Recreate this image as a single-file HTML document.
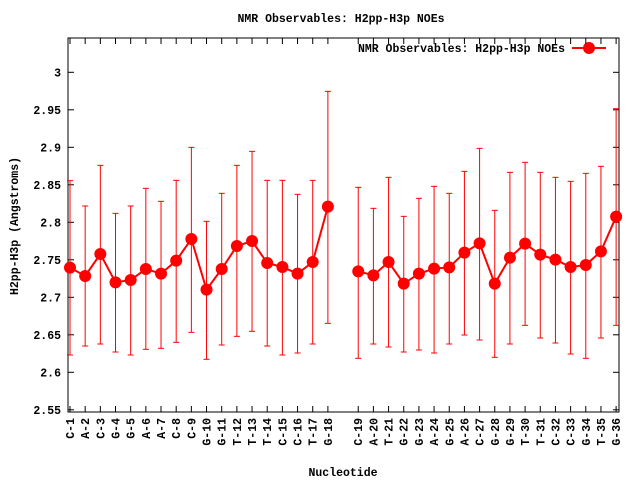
<!DOCTYPE html>
<html><head><meta charset="utf-8"><style>
html,body{margin:0;padding:0;background:#fff;}
svg{display:block;font-family:"Liberation Mono","DejaVu Sans Mono",monospace;font-weight:bold;font-size:11.5px;}
</style></head><body>
<svg id="s" width="640" height="480" xmlns="http://www.w3.org/2000/svg">
<rect width="640" height="480" fill="#fff"/>
<text x="341" y="22" text-anchor="middle">NMR Observables: H2pp-H3p NOEs</text>
<text x="343" y="476" text-anchor="middle">Nucleotide</text>
<text transform="translate(18,226) rotate(-90)" text-anchor="middle">H2pp-H3p (Angstroms)</text>
<rect x="68" y="38" width="551" height="374" fill="none" stroke="#000" stroke-width="1"/>
<text x="565" y="52" text-anchor="end">NMR Observables: H2pp-H3p NOEs</text>
<line x1="572" y1="48" x2="606" y2="48" stroke="#f00" stroke-width="2"/>
<circle cx="589" cy="48" r="6" fill="#f00"/>
<g id="g"></g>
</svg>
<script>
var names=["C-1","A-2","C-3","G-4","G-5","A-6","A-7","C-8","C-9","G-10","G-11","T-12","T-13","T-14","C-15","C-16","T-17","G-18",null,"C-19","A-20","T-21","G-22","G-23","A-24","G-25","A-26","C-27","G-28","G-29","T-30","T-31","C-32","C-33","G-34","T-35","G-36"];
var d=[[713,452,975],[738,528,948],[672,406,942],[757,550,966],[750,528,975],[717,475,958],[731,514,955],[692,451,937],[627,352,907],[779,574,988],[717,490,945],[648,406,919],[633,364,904],[699,451,948],[711,451,975],[731,493,969],[696,451,942],[530,184,880],null,
[724,472,985],[736,535,942],[696,442,951],[761,559,966],[731,505,960],[716,469,969],[712,490,942],[668,424,915],[640,355,930],[761,541,982],[683,427,942],[641,397,886],[674,427,924],[689,442,939],[711,454,972],[705,430,985],[664,409,924],[560,236,886]];
var h='';
function Y(z){return 30+z/3;}
var yl=["3","2.95","2.9","2.85","2.8","2.75","2.7","2.65","2.6","2.55"];
for(var k=0;k<10;k++){var y=72.3+k*37.5;
h+='<line x1="68" y1="'+y+'" x2="74" y2="'+y+'" stroke="#000"/><line x1="613" y1="'+y+'" x2="619" y2="'+y+'" stroke="#000"/>';
h+='<text x="61" y="'+(y+4)+'" text-anchor="end">'+yl[k]+'</text>';}
var pts=[];
for(var i=0;i<37;i++){var x=70+i*15.17;
 if(!names[i]){continue;}
 h+='<line x1="'+x+'" y1="412" x2="'+x+'" y2="406" stroke="#000"/><line x1="'+x+'" y1="38" x2="'+x+'" y2="44" stroke="#000"/>';
 h+='<text transform="translate('+(x+4)+',418) rotate(-90)" text-anchor="end">'+names[i]+'</text>';
 var v=d[i];var t=Y(v[1]),b=Y(v[2]);
 h+='<line x1="'+x+'" y1="'+t+'" x2="'+x+'" y2="'+b+'" stroke="#f00"/>';
 h+='<line x1="'+(x-3)+'" y1="'+t+'" x2="'+(x+3)+'" y2="'+t+'" stroke="#f00"/>';
 h+='<line x1="'+(x-3)+'" y1="'+b+'" x2="'+(x+3)+'" y2="'+b+'" stroke="#f00"/>';
 pts.push([x,Y(v[0]),i]);}
var p1=pts.filter(function(p){return p[2]<18;}),p2=pts.filter(function(p){return p[2]>18;});
[p1,p2].forEach(function(a){h+='<polyline fill="none" stroke="#f00" stroke-width="2" points="'+a.map(function(p){return p[0]+','+p[1];}).join(' ')+'"/>';});
pts.forEach(function(p){h+='<circle cx="'+p[0]+'" cy="'+p[1]+'" r="6" fill="#f00"/>';});
document.getElementById('g').innerHTML=h;
</script>
</body></html>
